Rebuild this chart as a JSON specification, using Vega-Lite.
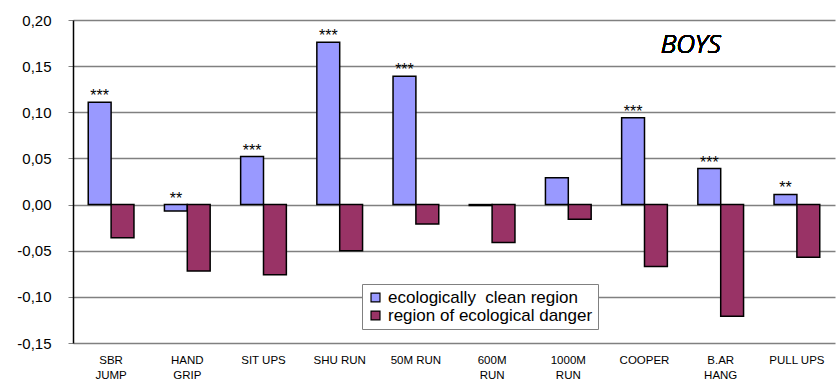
{
  "$schema": "https://vega.github.io/schema/vega-lite/v6.json",
  "autosize": "none",
  "width": 762,
  "height": 323,
  "padding": {"left": 73, "top": 20, "right": 3, "bottom": 40},
  "config": {
    "view": {"stroke": null},
    "font": "Liberation Sans",
    "axis": {"labelFont": "Liberation Sans", "titleFont": "Liberation Sans"},
    "legend": {"labelFont": "Liberation Sans"},
    "text": {"font": "Liberation Sans"}
  },
  "data": {
    "values": [
      {"cat": "SBR|JUMP", "grp": "ecologically\u00a0 clean region", "v": 0.111, "sig": "***"},
      {"cat": "SBR|JUMP", "grp": "region of ecological danger", "v": -0.036, "sig": ""},
      {"cat": "HAND|GRIP", "grp": "ecologically\u00a0 clean region", "v": -0.007, "sig": "**"},
      {"cat": "HAND|GRIP", "grp": "region of ecological danger", "v": -0.072, "sig": ""},
      {"cat": "SIT UPS", "grp": "ecologically\u00a0 clean region", "v": 0.052, "sig": "***"},
      {"cat": "SIT UPS", "grp": "region of ecological danger", "v": -0.076, "sig": ""},
      {"cat": "SHU RUN", "grp": "ecologically\u00a0 clean region", "v": 0.176, "sig": "***"},
      {"cat": "SHU RUN", "grp": "region of ecological danger", "v": -0.050, "sig": ""},
      {"cat": "50M RUN", "grp": "ecologically\u00a0 clean region", "v": 0.139, "sig": "***"},
      {"cat": "50M RUN", "grp": "region of ecological danger", "v": -0.021, "sig": ""},
      {"cat": "600M|RUN", "grp": "ecologically\u00a0 clean region", "v": -0.001, "sig": ""},
      {"cat": "600M|RUN", "grp": "region of ecological danger", "v": -0.041, "sig": ""},
      {"cat": "1000M|RUN", "grp": "ecologically\u00a0 clean region", "v": 0.029, "sig": ""},
      {"cat": "1000M|RUN", "grp": "region of ecological danger", "v": -0.016, "sig": ""},
      {"cat": "COOPER", "grp": "ecologically\u00a0 clean region", "v": 0.094, "sig": "***"},
      {"cat": "COOPER", "grp": "region of ecological danger", "v": -0.067, "sig": ""},
      {"cat": "B.AR|HANG", "grp": "ecologically\u00a0 clean region", "v": 0.039, "sig": "***"},
      {"cat": "B.AR|HANG", "grp": "region of ecological danger", "v": -0.121, "sig": ""},
      {"cat": "PULL UPS", "grp": "ecologically\u00a0 clean region", "v": 0.011, "sig": "**"},
      {"cat": "PULL UPS", "grp": "region of ecological danger", "v": -0.057, "sig": ""}
    ]
  },
  "encoding": {
    "x": {
      "field": "cat",
      "type": "nominal",
      "sort": null,
      "scale": {"paddingInner": 0.4, "paddingOuter": 0.2},
      "axis": {
        "title": null,
        "labelAngle": 0,
        "labelExpr": "split(datum.value, '|')",
        "labelFontSize": 11.5,
        "labelColor": "#000000",
        "labelPadding": 11,
        "labelLineHeight": 15,
        "domain": false,
        "ticks": false
      }
    }
  },
  "layer": [
    {
      "mark": {"type": "bar", "stroke": "#000000", "strokeWidth": 1.5},
      "encoding": {
        "xOffset": {"field": "grp", "type": "nominal", "scale": {"paddingInner": 0, "paddingOuter": 0}},
        "y": {
          "field": "v",
          "type": "quantitative",
          "scale": {"domain": [-0.15, 0.2], "nice": false, "zero": false},
          "axis": {
            "title": null,
            "values": [-0.15, -0.1, -0.05, 0, 0.05, 0.1, 0.15, 0.2],
            "labelExpr": "replace(replace(format(datum.value, '.2f'), '.', ','), '\u2212', '-')",
            "labelFontSize": 15,
            "labelColor": "#000000",
            "labelPadding": 17,
            "tickSize": 5,
            "tickColor": "#808080",
            "domainColor": "#000000",
            "domainWidth": 1.5,
            "grid": true,
            "gridColor": "#808080",
            "gridWidth": 1.5
          }
        },
        "color": {
          "field": "grp",
          "type": "nominal",
          "scale": {
            "domain": ["ecologically\u00a0 clean region", "region of ecological danger"],
            "range": ["#9999FF", "#993366"]
          },
          "legend": {
            "title": null,
            "orient": "none",
            "legendX": 289,
            "legendY": 264,
            "direction": "vertical",
            "fillColor": "#ffffff",
            "strokeColor": "#808080",
            "padding": 5,
            "labelFontSize": 17,
            "labelColor": "#000000",
            "labelLimit": 400,
            "symbolType": "square",
            "symbolSize": 80,
            "symbolStrokeColor": "#000000",
            "symbolStrokeWidth": 1.2,
            "symbolOpacity": 1,
            "rowPadding": 0
          }
        }
      }
    },
    {
      "mark": {"type": "rule", "color": "#000000", "strokeWidth": 1.5},
      "encoding": {"y": {"datum": 0}}
    },
    {
      "transform": [
        {"filter": "datum.sig != ''"},
        {"calculate": "max(datum.v, 0)", "as": "ty"}
      ],
      "mark": {"type": "text", "baseline": "bottom", "dy": 2, "fontSize": 16, "color": "#000000"},
      "encoding": {
        "xOffset": {"field": "grp", "type": "nominal"},
        "y": {"field": "ty", "type": "quantitative"},
        "text": {"field": "sig"}
      }
    },
    {
      "mark": {"type": "text", "font": "Noto Sans", "fontSize": 26, "fontStyle": "italic", "fontWeight": 300, "align": "center", "baseline": "alphabetic", "dx": -30, "color": "#000000"},
      "encoding": {
        "x": {"datum": "B.AR|HANG"},
        "y": {"datum": 0.164},
        "text": {"value": "BOYS"}
      }
    }
  ]
}
